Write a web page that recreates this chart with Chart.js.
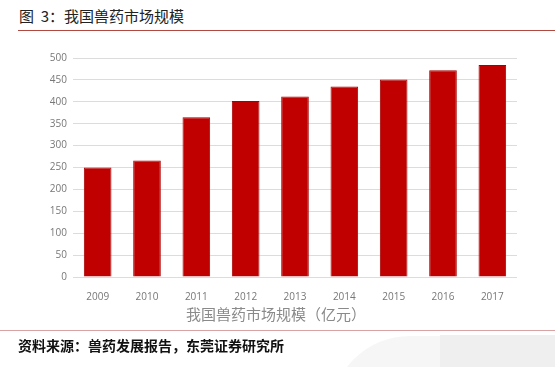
<!DOCTYPE html>
<html><head><meta charset="utf-8">
<script src="https://cdn.jsdelivr.net/npm/chart.js@4/dist/chart.umd.min.js"></script>
<style>
html,body{margin:0;padding:0;background:#fff;}
#wrap{position:relative;width:555px;height:367px;overflow:hidden;font-family:"Noto Sans CJK SC","Noto Sans",sans-serif;}
canvas{position:absolute;left:0;top:0;}
.t{position:absolute;white-space:nowrap;}
</style></head><body>
<div id="wrap">
<div class="t" style="left:19px;top:6px;font-size:15px;color:#222;line-height:20px;">图&nbsp;&nbsp;3：我国兽药市场规模</div>
<div style="position:absolute;left:18px;top:30px;width:537px;height:1px;background:#b04a40;"></div>
<canvas id="c" width="555" height="367"></canvas>
<div class="t" style="left:186px;top:304px;font-size:15px;color:#8a8a8a;line-height:20px;">我国兽药市场规模（亿元）</div>
<div style="position:absolute;left:0;top:330px;width:555px;height:1px;background:#d9a3a3;"></div>
<div style="position:absolute;left:330px;top:336px;width:260px;height:80px;border-radius:120px 0 0 0;background:#f6f6f6;"></div>
<div style="position:absolute;left:440px;top:335px;width:115px;height:32px;background:#efefef;"></div>
<div class="t" style="left:18px;top:335px;font-size:14px;font-weight:bold;color:#111;line-height:20px;">资料来源：兽药发展报告，东莞证券研究所</div>
</div>
<script>
const categories = ["2009","2010","2011","2012","2013","2014","2015","2016","2017"];
const marketSize = [250, 266, 365, 402, 412, 435, 451, 472, 484];
const yTicks = [0,50,100,150,200,250,300,350,400,450,500];

new Chart(document.getElementById('c'), {
  type: 'bar',
  data: {
    labels: categories,
    datasets: [{
      data: marketSize,
      backgroundColor: '#c00000',
      borderColor: '#a80000',
      borderWidth: 1,
      barPercentage: 0.56,
      categoryPercentage: 1.0
    }]
  },
  options: {
    responsive: false,
    animation: false,
    layout: { padding: { left: 40, right: 38, top: 58, bottom: 60 } },
    plugins: { legend: { display: false }, tooltip: { enabled: false } },
    scales: {
      x: {
        grid: { display: false },
        border: { display: false },
        ticks: { color: '#777', font: { size: 10, family: '"Open Sans","Noto Sans",sans-serif' }, padding: 6 },
        afterFit: s => { s.height = 30; }
      },
      y: {
        min: 0, max: 500,
        afterBuildTicks: s => { s.ticks = yTicks.map(v => ({ value: v })); },
        grid: { color: '#dcdcdc', drawTicks: false, lineWidth: 1 },
        border: { display: false },
        ticks: { color: '#777', font: { size: 10, family: '"Open Sans","Noto Sans",sans-serif' }, padding: 6 },
        afterFit: s => { s.width = 33; }
      }
    }
  }
});
</script>
</body></html>
